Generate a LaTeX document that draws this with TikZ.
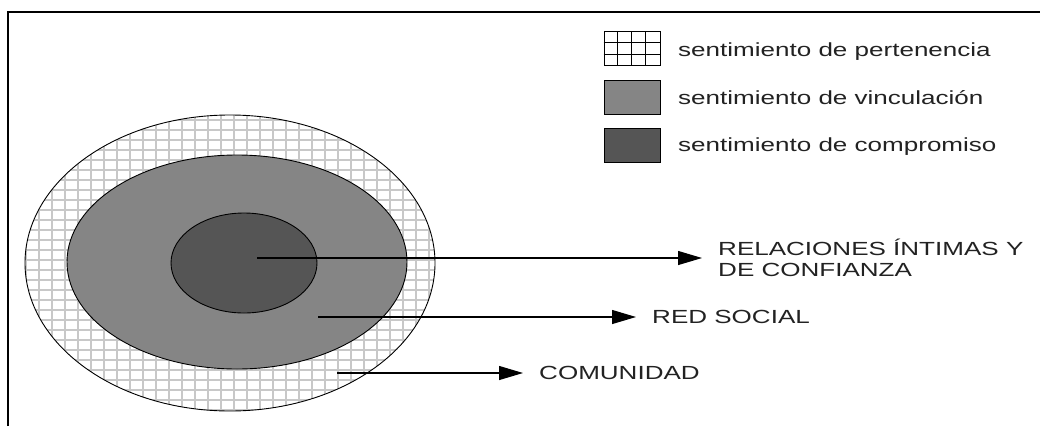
\documentclass[tikz,border=0pt]{standalone}
\usepackage{fontspec}
\setmainfont{Liberation Sans}[FakeStretch=1.37]
\usepackage{tikz}
\usetikzlibrary{arrows.meta}
\usepackage{xcolor}
\definecolor{vinculo}{HTML}{858585}
\definecolor{compromiso}{HTML}{555555}
\definecolor{rejilla}{HTML}{C8C8C8}
\definecolor{texto}{HTML}{222222}

\begin{document}
\begin{tikzpicture}[x=1pt,y=-1pt]
\tikzstyle{legbox} = [rectangle, draw=black, thick, minimum width=56pt,
minimum height=34pt, inner sep=0pt]
\tikzstyle{legtext} = [anchor=west, inner sep=0pt, text=texto,
font=\fontsize{19}{21}\selectfont]
\tikzstyle{label} = [anchor=west, inner xsep=16pt, inner ysep=0pt, text=texto,
align=left, font=\fontsize{19}{21}\selectfont]
\tikzstyle{ring} = [draw=black, line width=0.9pt]
\tikzstyle{hatch} = [draw=rejilla, line width=1.6pt]
\tikzstyle{line} = [draw, line width=1.1pt, -{Triangle[length=24pt,width=14pt]}]
\useasboundingbox (0,0) rectangle (1040,426);
% frame
\draw[line width=1.6pt] (8,426) -- (8,12) -- (1040,12);
% comunidad
\fill[white] (230,263) ellipse [x radius=205pt, y radius=148pt];
\begin{scope}
\clip (230,263) ellipse [x radius=205pt, y radius=148pt];
\draw[hatch] (20,105) grid [xstep=13pt, ystep=10pt] (445,420);
\end{scope}
\draw[ring] (230,263) ellipse [x radius=205pt, y radius=148pt];
% red social
\draw[ring, fill=vinculo] (237,262) ellipse [x radius=170pt, y radius=107pt];
% relaciones intimas
\draw[ring, fill=compromiso] (244,263) ellipse [x radius=73pt, y radius=50pt];
\coordinate (cint) at (257,258);
\coordinate (cred) at (318,317);
\coordinate (ccom) at (337,373);
% labels
\node [label] (rel) at (702,258) {RELACIONES ÍNTIMAS Y\\DE CONFIANZA};
\node [label] (red) at (636,317) {RED SOCIAL};
\node [label] (com) at (523,373) {COMUNIDAD};
% legend
\node [legbox] (boxpert) at (632,48.5) {};
\node [legbox, fill=vinculo] (boxvinc) at (632,97) {};
\node [legbox, fill=compromiso] (boxcomp) at (632,145.5) {};
\foreach \i in {1,2,3}
  \draw ([xshift=\i*14pt]boxpert.north west) -- ([xshift=\i*14pt]boxpert.south west);
\foreach \j in {1,2}
  \draw ([yshift=-\j*11.33pt]boxpert.north west) -- ([yshift=-\j*11.33pt]boxpert.north east);
\node [legtext] (txtpert) at (678,52) {sentimiento de pertenencia};
\node [legtext] (txtvinc) at (678,98) {sentimiento de vinculación};
\node [legtext] (txtcomp) at (678,147) {sentimiento de compromiso};

\tikzstyle{every path}=[line]
\path (cint) -- (rel.west);
\path (cred) -- (red.west);
\path (ccom) -- (com.west);
\end{tikzpicture}
\end{document}
